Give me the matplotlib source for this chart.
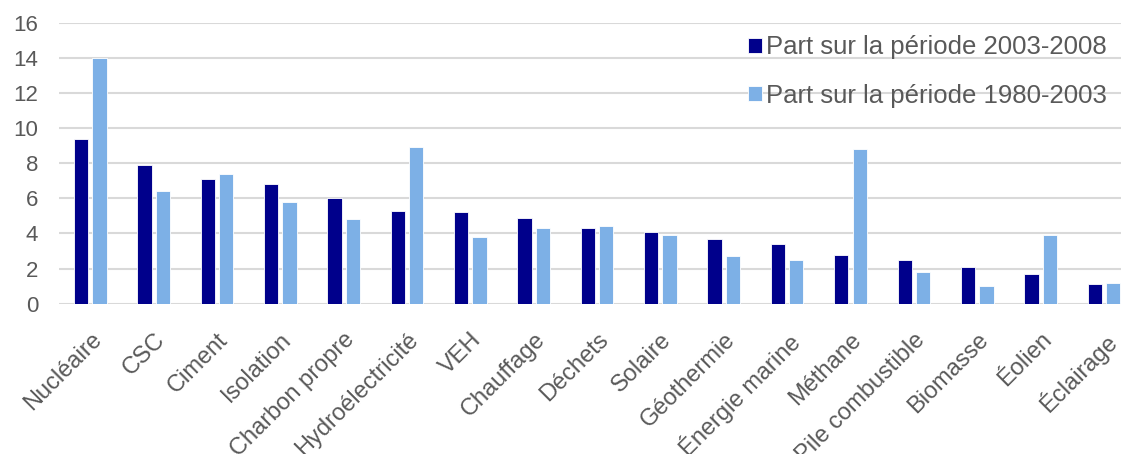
import numpy as np
import matplotlib.pyplot as plt

plt.rcParams['font.family'] = ['Liberation Sans', 'DejaVu Sans']

# Données
categories = ['Nucléaire', 'CSC', 'Ciment', 'Isolation', 'Charbon propre',
              'Hydroélectricité', 'VEH', 'Chauffage', 'Déchets', 'Solaire',
              'Géothermie', 'Énergie marine', 'Méthane', 'Pile combustible',
              'Biomasse', 'Éolien', 'Éclairage']
part_2003_2008 = [9.4, 7.9, 7.1, 6.8, 6.0, 5.3, 5.2, 4.9, 4.3, 4.1, 3.7, 3.4, 2.8, 2.5, 2.1, 1.7, 1.1]
part_1980_2003 = [14.0, 6.4, 7.4, 5.8, 4.8, 8.9, 3.8, 4.3, 4.4, 3.9, 2.7, 2.5, 8.8, 1.8, 1.0, 3.9, 1.2]
yticks = [0, 2, 4, 6, 8, 10, 12, 14, 16]

dark = '#00008B'
light = '#7DB0E6'
grey = '#595959'

fig = plt.figure(figsize=(11.21, 4.54), dpi=100)
ax = fig.add_axes([59 / 1121, 1 - 303.7 / 454, 1 - 59 / 1121, (303.7 - 22.7) / 454])

x = np.arange(len(categories))
w = 0.226
ax.bar(x - 0.145, part_2003_2008, w, color=dark, edgecolor='white', linewidth=0.6,
       label='Part sur la période 2003-2008', zorder=3)
ax.bar(x + 0.145, part_1980_2003, w, color=light, edgecolor='white', linewidth=0.6,
       label='Part sur la période 1980-2003', zorder=3)

ax.set_ylim(0, 16)
ax.set_xlim(-0.494, 16.27)
ax.set_yticks(yticks)
ax.set_yticklabels([str(t) for t in yticks], fontsize=16, color=grey)
ax.yaxis.grid(True, color='#D9D9D9', linewidth=1.5, zorder=0)
ax.set_axisbelow(True)
ax.tick_params(axis='y', length=0, pad=15)
ax.tick_params(axis='x', length=0, pad=18)
for s in ['top', 'right', 'left', 'bottom']:
    ax.spines[s].set_visible(False)

# les étiquettes sont coupées en bas comme dans l'original
ax.set_xticks(x)
ax.set_xticklabels(categories, rotation=45, ha='right', rotation_mode='anchor',
                   fontsize=17, color=grey)

leg = ax.legend(loc='upper right', bbox_to_anchor=(1048 / 1062, 0.955), frameon=False,
                fontsize=18.5, handlelength=0.55, handleheight=0.55, handletextpad=0.15,
                labelspacing=0.95, labelcolor=grey, borderaxespad=0, borderpad=0)

fig.savefig('out.png', dpi=100)
